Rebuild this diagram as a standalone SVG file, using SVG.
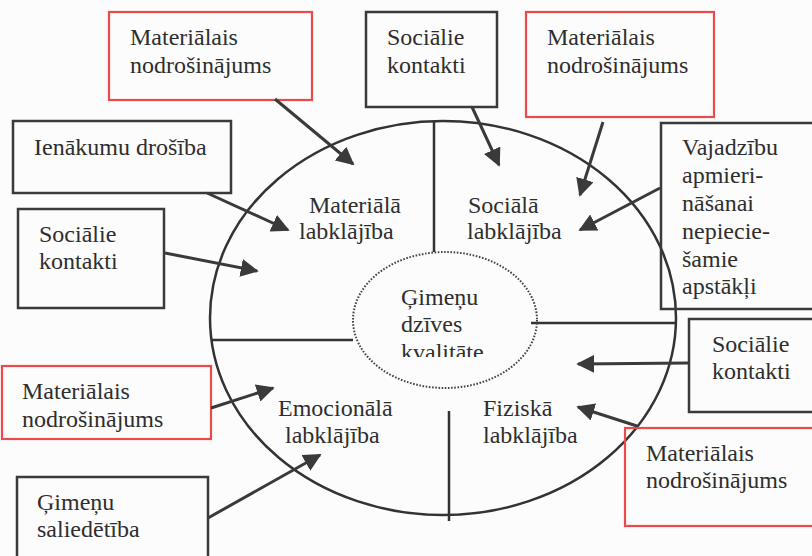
<svg xmlns="http://www.w3.org/2000/svg" width="812" height="556" viewBox="0 0 812 556">
<style>
.bg{fill:#fcfcfc}
.box{fill:none;stroke:#3a3a3a;stroke-width:2.5}
.red{fill:none;stroke:#ec4a4a;stroke-width:2.2}
.t{font-family:"Liberation Serif","Times New Roman",serif;font-size:24px;fill:#2e2e2e}
.ln{stroke:#333;stroke-width:2.5;fill:none}
.ar{stroke:#3a3a3a;stroke-width:3;fill:none;marker-end:url(#ah)}
</style>
<defs>
<marker id="ah" viewBox="0 0 10 10" refX="9" refY="5" markerWidth="6" markerHeight="6" markerUnits="strokeWidth" orient="auto">
<path d="M0,0 L10,5 L0,10 Z" fill="#3a3a3a"/>
</marker>
<clipPath id="cc"><rect x="340" y="250" width="210" height="107"/></clipPath>
</defs>
<rect class="bg" x="0" y="0" width="812" height="556"/>

<g id="circle">
<ellipse class="ln" cx="443" cy="318" rx="233" ry="197"/>
<line class="ln" x1="434" y1="122" x2="434" y2="252"/>
<line class="ln" x1="211" y1="340" x2="353" y2="340"/>
<line class="ln" x1="531" y1="323" x2="676" y2="323"/>
<line class="ln" x1="449" y1="411" x2="449" y2="521"/>
</g>

<g id="center">
<ellipse cx="445" cy="320" rx="92" ry="68" fill="none" stroke="#444" stroke-width="2" stroke-dasharray="1.6 1.6"/>
<g clip-path="url(#cc)">
<text class="t" x="401" y="305">Ģimeņu</text>
<text class="t" x="401" y="332">dzīves</text>
<text class="t" x="401" y="360">kvalitāte</text>
</g>
</g>

<g id="sec-material"><text class="t" x="309" y="213">Materiālā</text><text class="t" x="299" y="239">labklājība</text></g>
<g id="sec-social"><text class="t" x="468" y="213">Sociālā</text><text class="t" x="467" y="239">labklājība</text></g>
<g id="sec-emotional"><text class="t" x="278" y="416">Emocionālā</text><text class="t" x="285" y="443">labklājība</text></g>
<g id="sec-physical"><text class="t" x="483" y="416">Fiziskā</text><text class="t" x="483" y="443">labklājība</text></g>

<g id="n1"><rect class="red" x="109" y="12" width="203" height="88"/><text class="t" x="130" y="45">Materiālais</text><text class="t" x="130" y="73">nodrošinājums</text></g>
<g id="n2"><rect class="box" x="366" y="12" width="131" height="95"/><text class="t" x="387" y="45">Sociālie</text><text class="t" x="387" y="73">kontakti</text></g>
<g id="n3"><rect class="red" x="526" y="12" width="188" height="105"/><text class="t" x="547" y="45">Materiālais</text><text class="t" x="547" y="73">nodrošinājums</text></g>
<g id="n4"><rect class="box" x="661" y="123" width="160" height="186"/>
<text class="t" x="682" y="155">Vajadzību</text><text class="t" x="682" y="183">apmieri-</text><text class="t" x="682" y="211">nāšanai</text><text class="t" x="682" y="239">nepiecie-</text><text class="t" x="682" y="267">šamie</text><text class="t" x="682" y="294">apstākļi</text></g>
<g id="n5"><rect class="box" x="689" y="319" width="130" height="93"/><text class="t" x="712" y="352">Sociālie</text><text class="t" x="712" y="379">kontakti</text></g>
<g id="n6"><rect class="red" x="625" y="428" width="195" height="98"/><text class="t" x="646" y="461">Materiālais</text><text class="t" x="646" y="488">nodrošinājums</text></g>
<g id="n7"><rect class="box" x="13" y="121" width="218" height="72"/><text class="t" x="34" y="155">Ienākumu drošība</text></g>
<g id="n8"><rect class="box" x="18" y="209" width="146" height="99"/><text class="t" x="39" y="242">Sociālie</text><text class="t" x="39" y="269">kontakti</text></g>
<g id="n9"><rect class="red" x="2" y="366" width="209" height="73"/><text class="t" x="22" y="399">Materiālais</text><text class="t" x="22" y="427">nodrošinājums</text></g>
<g id="n10"><rect class="box" x="17" y="477" width="191" height="90"/><text class="t" x="37" y="510">Ģimeņu</text><text class="t" x="37" y="537">saliedētība</text></g>

<g id="connectors">
<line class="ar" x1="275" y1="99" x2="353" y2="164"/>
<line class="ar" x1="207" y1="193" x2="288" y2="230"/>
<line class="ar" x1="165" y1="253" x2="257" y2="271"/>
<line class="ar" x1="472" y1="107" x2="499" y2="165"/>
<line class="ar" x1="603" y1="122" x2="580" y2="195"/>
<line class="ar" x1="660" y1="188" x2="580" y2="230"/>
<line class="ar" x1="689" y1="363" x2="578" y2="364"/>
<line class="ar" x1="637" y1="426" x2="578" y2="407"/>
<line class="ar" x1="211" y1="408" x2="273" y2="388"/>
<line class="ar" x1="208" y1="518" x2="320" y2="455"/>
</g>
</svg>
